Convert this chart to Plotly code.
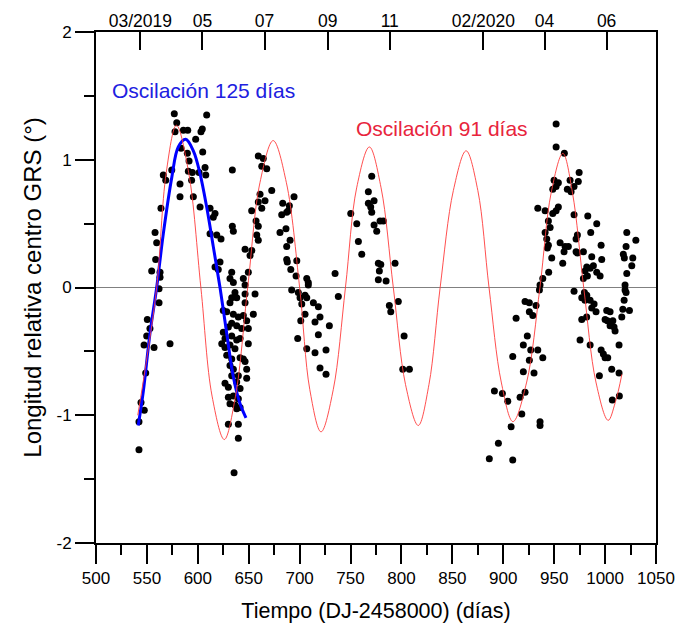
import plotly.graph_objects as go

# ---------------- data ----------------
obs_day = [
    576.9, 608.7, 579.3, 577.6, 585.8, 590.1, 604.4, 603.1, 597.9, 583.5, 589.7, 604.8, 591.4, 574.4,
    566.1, 568.5, 590.7, 594.6, 601.2, 607.1, 607.8, 593.9, 633.9, 582.5, 582.5, 595.6, 602.2, 563.8,
    612.0, 616.9, 615.2, 558.0, 559.6, 612.0, 618.6, 622.8, 633.9, 634.9, 558.6, 554.7, 562.9, 562.9,
    616.9, 620.1, 621.8, 561.9, 561.9, 550.4, 553.0, 549.8, 547.2, 557.0, 572.7, 548.8, 544.2, 547.4,
    542.2, 542.2,
    633.3, 631.6, 634.9, 644.7, 649.6, 646.4, 656.2, 636.5, 633.3, 638.2, 631.6, 646.4, 646.4, 625.0,
    628.4, 634.9, 639.8, 644.7, 648.0, 649.6, 633.3, 630.0, 638.2, 643.1, 625.0, 626.7, 633.3, 638.2,
    641.5, 623.5, 626.7, 631.6, 636.5, 649.6, 628.4, 633.3, 641.5, 644.7, 631.6, 634.9, 646.4, 648.0,
    633.3, 639.8, 648.0, 626.7, 630.0, 638.2, 641.5, 630.0, 634.9, 639.8, 631.6, 636.5, 638.2, 641.5,
    630.0, 639.8, 639.8, 635.6, 646.4, 653.0, 651.3,
    659.4, 664.3, 662.8, 667.7, 672.6, 661.1, 659.4, 666.0, 662.8, 652.9, 657.2, 659.4, 657.9, 659.4,
    694.5, 683.4, 689.9, 682.4, 687.3, 688.9, 686.6, 680.7, 690.6, 687.3, 687.3, 687.9, 697.2, 691.3,
    696.5, 707.0, 708.5, 708.5, 692.2, 698.7, 700.4, 705.3, 707.0, 713.5, 718.4, 702.1, 705.3, 701.1,
    720.0, 715.1, 729.2, 718.4, 698.1, 707.0, 715.1, 725.9, 720.0, 725.9, 654.5,
    734.8, 738.0, 750.2, 756.1, 757.7, 761.0, 770.8, 767.5, 773.1, 767.5, 769.8, 770.8, 779.0, 782.2,
    773.1, 775.7, 777.3, 779.7, 778.3, 793.7, 777.3, 784.9, 796.9, 788.1, 789.5, 802.6, 801.3, 807.8,
    951.9, 951.9, 960.0, 974.5, 949.9, 954.1, 948.6, 951.9, 965.6, 973.7, 962.9, 966.6, 969.5, 933.9,
    941.1, 954.1, 951.9, 948.6, 969.5, 944.3, 946.0, 983.0, 991.8, 941.1, 942.7, 944.3, 943.3, 972.8,
    971.5, 985.9, 1021.3, 1030.2, 955.8, 960.7, 963.9, 959.7, 971.5, 972.8, 978.7, 996.1, 1020.6, 1017.9,
    1018.9, 1027.2, 1026.2, 947.6, 958.4, 986.9, 988.5, 985.3, 982.0, 980.3, 991.8, 995.1, 982.6, 978.7,
    996.7, 944.6, 938.8, 936.1, 935.5, 1021.3, 1019.6, 1019.6, 1020.6, 969.5, 979.7, 982.0, 977.1, 980.3,
    985.3, 989.2, 986.9, 991.1, 921.4, 925.6, 932.2, 925.6, 929.0, 912.6, 977.1, 981.9, 1001.6, 1004.9,
    1000.0, 1002.3, 1007.6, 1004.9, 1009.8, 1008.8, 1018.7, 1017.4, 1023.9, 1016.4, 923.6, 975.4, 985.3, 1013.7,
    919.7, 927.0, 933.9, 909.3, 925.6, 938.8, 996.1, 998.3, 1000.0, 1002.6, 919.7, 930.2, 1006.5, 1013.7,
    994.4, 891.3, 899.1, 904.4, 916.5, 921.4, 918.2, 907.7, 936.1, 936.1, 1014.0, 1007.1, 895.2, 886.3,
    909.3,
]
obs_val = [
    1.36, 1.35, 1.29, 1.22, 1.23, 1.23, 1.24, 1.22, 1.16, 1.09, 1.05, 1.06, 0.99, 0.92,
    0.88, 0.84, 0.91, 0.90, 0.90, 0.94, 0.88, 0.84, 0.92, 0.81, 0.71, 0.71, 0.63, 0.62,
    0.62, 0.58, 0.55, 0.43, 0.35, 0.42, 0.41, 0.38, 0.48, 0.44, 0.22, 0.13, 0.12, 0.08,
    0.16, 0.14, 0.20, -0.01, -0.12, -0.25, -0.32, -0.38, -0.45, -0.47, -0.44, -0.67, -0.90, -0.96,
    -1.05, -1.27,
    0.12, 0.07, 0.04, 0.07, 0.12, 0.02, -0.05, -0.04, -0.08, -0.08, -0.12, -0.05, -0.12, -0.18,
    -0.19, -0.21, -0.23, -0.22, -0.26, -0.32, -0.28, -0.31, -0.30, -0.32, -0.35, -0.40, -0.38, -0.41,
    -0.40, -0.44, -0.47, -0.45, -0.48, -0.44, -0.53, -0.56, -0.55, -0.56, -0.61, -0.64, -0.58, -0.64,
    -0.69, -0.69, -0.71, -0.75, -0.78, -0.74, -0.79, -0.86, -0.85, -0.87, -0.91, -0.92, -0.95, -0.94,
    -1.07, -1.07, -1.18, -1.45, 0.30, 0.29, 0.25,
    1.03, 1.01, 0.95, 0.93, 0.76, 0.73, 0.67, 0.68, 0.62, 0.60, 0.52, 0.48, 0.41, 0.37,
    0.71, 0.66, 0.64, 0.57, 0.59, 0.60, 0.46, 0.43, 0.37, 0.32, 0.22, 0.20, 0.21, 0.14,
    0.09, 0.07, 0.04, 0.02, -0.02, -0.04, -0.08, -0.06, -0.08, -0.12, -0.15, -0.13, -0.21, -0.26,
    -0.23, -0.27, -0.30, -0.37, -0.40, -0.48, -0.51, -0.49, -0.63, -0.68, -0.21,
    0.11, -0.07, 0.58, 0.50, 0.36, 0.26, 0.87, 0.75, 0.68, 0.66, 0.63, 0.59, 0.52, 0.52,
    0.49, 0.44, 0.19, 0.18, 0.13, 0.19, 0.06, 0.05, -0.11, -0.14, -0.19, -0.38, -0.64, -0.64,
    1.28, 1.10, 1.05, 0.90, 0.84, 0.82, 0.77, 0.79, 0.84, 0.83, 0.77, 0.75, 0.79, 0.62,
    0.60, 0.63, 0.60, 0.58, 0.57, 0.52, 0.47, 0.56, 0.50, 0.43, 0.38, 0.33, 0.31, 0.41,
    0.38, 0.43, 0.43, 0.37, 0.35, 0.32, 0.32, 0.28, 0.28, 0.27, 0.28, 0.33, 0.32, 0.26,
    0.23, 0.23, 0.17, 0.23, 0.19, 0.24, 0.17, 0.15, 0.16, 0.13, 0.12, 0.09, 0.09, 0.07,
    0.22, 0.12, 0.07, 0.02, -0.02, 0.11, 0.02, -0.02, -0.04, -0.03, -0.04, -0.06, -0.08, -0.10,
    -0.10, -0.13, -0.16, -0.19, -0.11, -0.12, -0.14, -0.19, -0.22, -0.24, -0.25, -0.23, -0.18, -0.19,
    -0.25, -0.26, -0.26, -0.30, -0.34, -0.31, -0.10, -0.17, -0.18, -0.23, -0.38, -0.41, -0.45, -0.45,
    -0.45, -0.49, -0.49, -0.54, -0.57, -0.55, -0.49, -0.52, -0.55, -0.55, -0.66, -0.67, -0.64, -0.67,
    -0.69, -0.81, -0.83, -0.89, -0.86, -0.82, -0.99, -1.09, -1.05, -1.08, -0.85, -0.88, -1.22, -1.34,
    -1.35,
]

# 91-day oscillation
osc91_day = [541, 550, 559.6, 569, 579, 591, 603, 614, 626, 637, 649, 661, 674, 687, 700, 710, 721,
             733, 745, 756, 768.5, 780, 792, 804, 816.5, 827, 838, 851, 863.5, 875, 886, 898, 909.5,
             923, 936, 947, 958.5, 968, 979, 991, 1003, 1010, 1016.5]
osc91_val = [-1.0, -0.55, 0.0, 0.9, 1.27, 0.9, 0.0, -0.85, -1.19, -0.85, 0.0, 0.82, 1.15, 0.82, 0.0,
             -0.8, -1.13, -0.8, 0.0, 0.78, 1.10, 0.78, 0.0, -0.76, -1.08, -0.76, 0.0, 0.76, 1.07, 0.76,
             0.0, -0.74, -1.05, -0.74, 0.0, 0.74, 1.05, 0.74, 0.0, -0.74, -1.04, -0.9, -0.68]

# 125-day oscillation
osc125_day = [541.5, 546.5, 553.0, 559.6, 566.1, 574.4, 580.8, 588.1, 595.6, 602.2, 608.7, 615.2,
              621.8, 628.4, 634.9, 641.5, 647.3]
osc125_val = [-1.08, -0.81, -0.36, 0.0, 0.42, 0.86, 1.10, 1.16, 1.07, 0.89, 0.63, 0.32, 0.0, -0.36,
              -0.70, -0.91, -1.02]

x_ticks = [500, 550, 600, 650, 700, 750, 800, 850, 900, 950, 1000, 1050]
y_ticks = [-2, -1, 0, 1, 2]
y_ticktext = ["-2", "-1", "0", "1", "2"]
month_ticks = [543.5, 604.5, 665.5, 727.5, 788.5, 880.5, 940.5, 1001.5]
month_labels = ["03/2019", "05", "07", "09", "11", "02/2020", "04", "06"]

FONT = "Liberation Sans, Arial, sans-serif"

fig = go.Figure()
fig.add_trace(go.Scatter(x=osc91_day, y=osc91_val, mode="lines", xaxis="x2",
                         line=dict(color="rgba(255,60,60,0.9)", width=1, shape="spline", smoothing=1),
                         hoverinfo="skip", showlegend=False))
fig.add_trace(go.Scatter(x=obs_day, y=obs_val, mode="markers",
                         marker=dict(color="black", size=7), showlegend=False))
fig.add_trace(go.Scatter(x=osc125_day, y=osc125_val, mode="lines",
                         line=dict(color="#0000ff", width=3, shape="spline", smoothing=1),
                         showlegend=False))

# the page body adds an 8 px margin, so the figure is 8 px smaller and margins compensate
fig.update_layout(
    width=688, height=616,
    margin=dict(l=88, r=40, t=24, b=81, autoexpand=False),
    paper_bgcolor="white", plot_bgcolor="white",
    font=dict(family=FONT, color="black", size=17),
    xaxis=dict(range=[500, 1050], tickvals=x_ticks, ticks="outside", ticklen=19, tickwidth=1.5,
               tickcolor="black", showline=True, linecolor="black", linewidth=2, showgrid=False,
               zeroline=False, tickfont=dict(size=17, family=FONT), automargin=False,
               minor=dict(ticks="outside", ticklen=10, tickwidth=1.5, tickcolor="black",
                          tick0=525, dtick=50, showgrid=False),
               title=dict(text="Tiempo (DJ-2458000) (días)", font=dict(size=21.5, family=FONT), standoff=16)),
    xaxis2=dict(range=[500, 1050], overlaying="x", side="top", tickvals=month_ticks,
                ticktext=month_labels, ticks="inside", ticklen=18, tickwidth=1.5, tickcolor="black",
                showline=True, linecolor="black", linewidth=2, showgrid=False, zeroline=False,
                tickfont=dict(size=17.5, family=FONT), automargin=False, ticklabelstandoff=-4),
    yaxis=dict(range=[-2, 2], tickvals=y_ticks, ticktext=y_ticktext, ticks="outside", ticklen=19,
               tickwidth=1.5, tickcolor="black", showline=True, linecolor="black", linewidth=2,
               mirror=True, showgrid=False, zeroline=True, zerolinecolor="#808080", zerolinewidth=1,
               tickfont=dict(size=17, family=FONT), automargin=False,
               minor=dict(ticks="outside", ticklen=10, tickwidth=1.5, tickcolor="black",
                          tick0=-1.5, dtick=1, showgrid=False),
               title=dict(text="Longitud relativa centro GRS (°)", font=dict(size=24, family=FONT), standoff=8)),
    annotations=[
        dict(x=606, y=1.54, xref="x", yref="y", text="Oscilación 125 días", showarrow=False,
             font=dict(size=21, color="#2020e0", family=FONT)),
        dict(x=840, y=1.245, xref="x", yref="y", text="Oscilación 91 días", showarrow=False,
             font=dict(size=21, color="#e8243c", family=FONT)),
    ],
)

fig.write_html("out.html")
